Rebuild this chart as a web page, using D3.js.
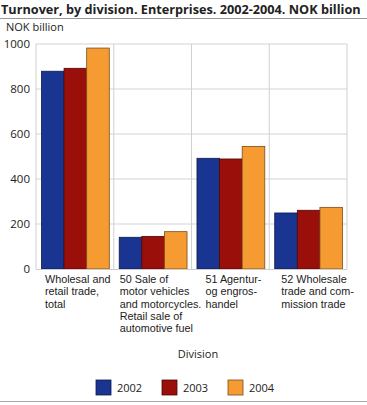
<!DOCTYPE html>
<html>
<head>
<meta charset="utf-8">
<script src="https://cdn.jsdelivr.net/npm/d3@7"></script>
<style>
  body { margin: 0; background: #fff; }
  text { font-family: "Open Sans", "DejaVu Sans", sans-serif; fill: #222; }
  text.cat { font-family: "Liberation Sans", Arial, sans-serif; }
</style>
</head>
<body>
<div id="chart"></div>
<script>
// Data
const categories = ["total", "50", "51", "52"];
const categoryLabels = [
  ["Wholesal and", "retail trade,", "total"],
  ["50 Sale of", "motor vehicles", "and motorcycles.", "Retail sale of", "automotive fuel"],
  ["51 Agentur-", "og engros-", "handel"],
  ["52 Wholesale", "trade and com-", "mission trade"]
];
const years = ["2002", "2003", "2004"];
const values2002 = [879, 141, 492, 249];
const values2003 = [892, 145, 489, 261];
const values2004 = [982, 166, 545, 274];
const yTicks = [0, 200, 400, 600, 800, 1000];

const series = [values2002, values2003, values2004];
const colors = ["#1a3591", "#9b0f0a", "#f59b32"];
const strokes = ["#0d1a4a", "#4a0805", "#7a4d19"];

const W = 367, H = 405;
const margin = {top: 44, right: 20, bottom: 136, left: 36};
const width = W - margin.left - margin.right,
      height = H - margin.top - margin.bottom;

const svg = d3.select("#chart").append("svg")
  .attr("width", W).attr("height", H);

// Title and rules
svg.append("text")
  .attr("x", 1).attr("y", 14)
  .style("font-size", "12.7px").style("font-weight", "bold")
  .text("Turnover, by division. Enterprises. 2002-2004. NOK billion");
svg.append("line").attr("x1", 0).attr("x2", W).attr("y1", 18.5).attr("y2", 18.5)
  .attr("stroke", "#999").attr("stroke-width", 1);
svg.append("line").attr("x1", 0).attr("x2", W).attr("y1", 401.5).attr("y2", 401.5)
  .attr("stroke", "#aaa").attr("stroke-width", 1);

svg.append("text")
  .attr("x", 6).attr("y", 31)
  .style("font-size", "11px")
  .text("NOK billion");

const g = svg.append("g").attr("transform", `translate(${margin.left},${margin.top})`);

const x = d3.scaleBand().domain(categories).range([0, width]);
const x1 = d3.scaleBand().domain(years).range([0, x.bandwidth()]).paddingInner(0).paddingOuter(0.22);
const y = d3.scaleLinear().domain([0, 1000]).range([height, 0]);

// Horizontal grid
g.selectAll(".hgrid").data(yTicks.filter(d => d > 0)).join("line")
  .attr("x1", 0).attr("x2", width)
  .attr("y1", d => y(d)).attr("y2", d => y(d))
  .attr("stroke", "#e2e2e2").attr("stroke-width", 1.5);

// Vertical separators
g.selectAll(".vgrid").data(categories.concat(["end"])).join("line")
  .attr("x1", (d, i) => i < categories.length ? x(d) : width)
  .attr("x2", (d, i) => i < categories.length ? x(d) : width)
  .attr("y1", 0).attr("y2", height)
  .attr("stroke", "#d0d0d0").attr("stroke-width", 1);

// Y axis labels
g.selectAll(".ytick").data(yTicks).join("text")
  .attr("x", -6).attr("y", d => y(d)).attr("dy", "0.35em")
  .attr("text-anchor", "end")
  .style("font-size", "11.5px")
  .text(d => d);

// Bars
series.forEach((vals, si) => {
  g.selectAll(".bar" + si).data(vals).join("rect")
    .attr("x", (d, i) => x(categories[i]) + x1(years[si]) + 0.5)
    .attr("y", d => y(d))
    .attr("width", x1.bandwidth())
    .attr("height", d => height - y(d))
    .attr("fill", colors[si])
    .attr("stroke", strokes[si]).attr("stroke-width", 0.8);
});

// Bottom axis line
g.append("line").attr("x1", 0).attr("x2", width)
  .attr("y1", height + 0.5).attr("y2", height + 0.5)
  .attr("stroke", "#ccc");

// Category labels
const labelOffsets = [9, 6, 14, 12];
categoryLabels.forEach((lines, i) => {
  const t = g.append("text")
    .attr("class", "cat")
    .attr("x", x(categories[i]) + labelOffsets[i])
    .attr("y", height + 14)
    .style("font-size", "10.8px");
  lines.forEach((ln, j) => {
    t.append("tspan")
      .attr("x", x(categories[i]) + labelOffsets[i])
      .attr("dy", j === 0 ? 0 : 12.3)
      .text(ln);
  });
});

// Axis title
svg.append("text")
  .attr("x", 198).attr("y", 358)
  .attr("text-anchor", "middle")
  .style("font-size", "11px")
  .text("Division");

// Legend
const legend = svg.selectAll(".legend").data(years).join("g")
  .attr("transform", (d, i) => `translate(${96 + i * 66},380)`);
legend.append("rect")
  .attr("width", 15).attr("height", 15)
  .attr("fill", (d, i) => colors[i])
  .attr("stroke", (d, i) => strokes[i]).attr("stroke-width", 0.8);
legend.append("text")
  .attr("x", 21).attr("y", 12)
  .style("font-size", "11px")
  .text(d => d);
</script>
</body>
</html>
